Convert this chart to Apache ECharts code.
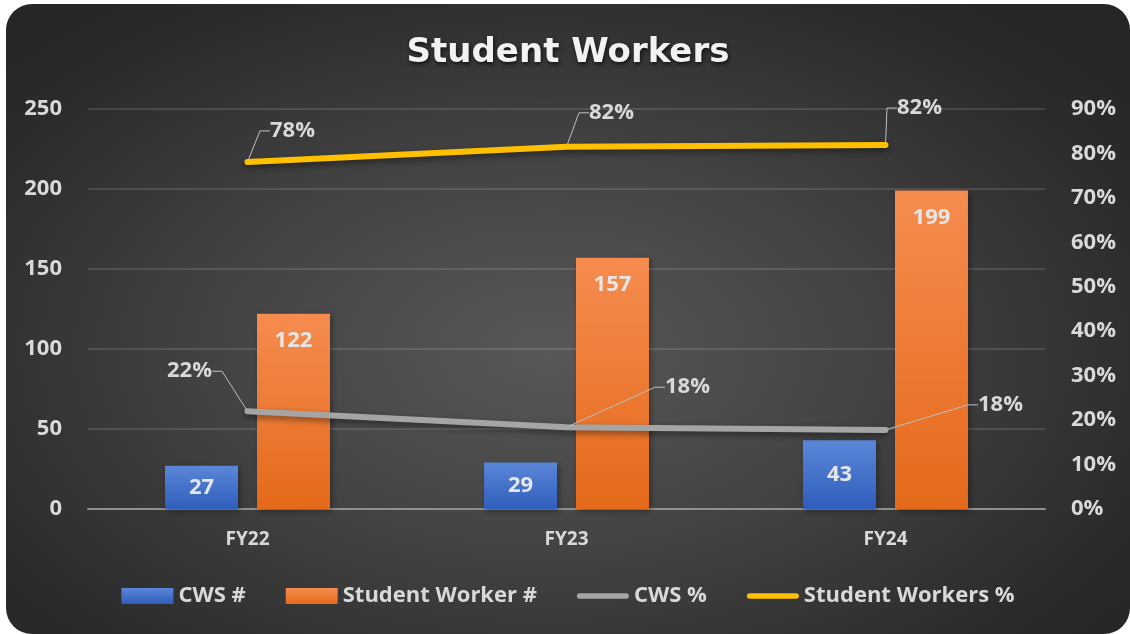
<!DOCTYPE html>
<html>
<head>
<meta charset="utf-8">
<script src="https://cdn.jsdelivr.net/npm/echarts@6/dist/echarts.min.js"></script>
<style>
    html, body { margin: 0; padding: 0; background: #ffffff; }
    #card {
        position: absolute;
        left: 6px;
        top: 4px;
        width: 1124px;
        height: 630px;
        border-radius: 26px;
        overflow: hidden;
        background: radial-gradient(ellipse 65% 70% at 48% 55%, #585858 0%, #434343 45%, #2c2c2c 85%, #262626 100%);
    }
    #chart { width: 1124px; height: 630px; }
</style>
</head>
<body>
<div id="card"><div id="chart"></div></div>
<script>
    var categories = ['FY22', 'FY23', 'FY24'];
    var cwsCount = [27, 29, 43];
    var studentWorkerCount = [122, 157, 199];
    var cwsPct = [22.0, 18.4, 17.8];
    var studentWorkersPct = [78.1, 81.5, 81.9];
    var leftTicks = [0, 250, 50];
    var rightTicks = [0, 90, 10];

    // label offsets (dx, dy) from the point for each line label
    var yellowOffsets = [[45, -31], [45, -34], [34, -37]];
    var grayOffsets = [[-58, -40], [121, -40], [115, -25]];

    var font = '"Open Sans", "DejaVu Sans", sans-serif';
    var textColor = '#d9d9d9';
    // thick rounded line used as legend icon for the line series
    var lineIcon = 'path://M3,0 L54,0 A3,3 0 0 1 54,6 L3,6 A3,3 0 0 1 3,0 Z';

    var chart = echarts.init(document.getElementById('chart'));

    function pctLabel(p) {
        return Math.round(p.value) + '%';
    }

    var option = {
        backgroundColor: 'transparent',
        textStyle: { fontFamily: font },
        title: {
            text: 'Student Workers',
            left: 'center',
            top: 27,
            textStyle: {
                fontFamily: '"DejaVu Sans", sans-serif',
                fontSize: 34,
                fontWeight: 'bold',
                color: '#f2f2f2',
                textShadowColor: 'rgba(0,0,0,0.7)',
                textShadowBlur: 4,
                textShadowOffsetX: 1,
                textShadowOffsetY: 2
            }
        },
        grid: {
            left: 82,
            right: 85,
            top: 105,
            bottom: 125,
            containLabel: false
        },
        legend: {
            bottom: 22,
            left: 'center',
            itemWidth: 52,
            itemHeight: 16,
            itemGap: 40,
            textStyle: {
                color: textColor,
                fontSize: 22,
                fontWeight: 'bold',
                fontFamily: font
            },
            data: [
                { name: 'CWS #', icon: 'rect' },
                { name: 'Student Worker #', icon: 'rect' },
                { name: 'CWS %', icon: lineIcon },
                { name: 'Student Workers %', icon: lineIcon }
            ]
        },
        xAxis: {
            type: 'category',
            data: categories,
            axisTick: { show: false },
            axisLine: { lineStyle: { color: '#8f8f8f', width: 2 } },
            axisLabel: {
                color: textColor,
                fontSize: 19,
                fontWeight: 'bold',
                margin: 21
            }
        },
        yAxis: [{
            type: 'value',
            min: leftTicks[0],
            max: leftTicks[1],
            interval: leftTicks[2],
            axisLine: { show: false },
            axisTick: { show: false },
            axisLabel: {
                color: textColor,
                fontSize: 22,
                fontWeight: 'bold',
                margin: 26
            },
            splitLine: { lineStyle: { color: 'rgba(255,255,255,0.12)', width: 2 } }
        }, {
            type: 'value',
            min: rightTicks[0],
            max: rightTicks[1],
            interval: rightTicks[2],
            axisLine: { show: false },
            axisTick: { show: false },
            splitLine: { show: false },
            axisLabel: {
                color: textColor,
                fontSize: 22,
                fontWeight: 'bold',
                margin: 26,
                formatter: '{value}%'
            }
        }],
        series: [{
            name: 'CWS #',
            type: 'bar',
            data: cwsCount,
            barWidth: 73,
            barGap: '26%',
            itemStyle: {
                color: new echarts.graphic.LinearGradient(0, 0, 0, 1, [
                    { offset: 0, color: '#5b87d8' },
                    { offset: 1, color: '#2f5dbb' }
                ]),
                shadowColor: 'rgba(0,0,0,0.35)',
                shadowBlur: 6,
                shadowOffsetX: 2,
                shadowOffsetY: 2
            },
            label: {
                show: true,
                position: 'inside',
                color: '#e6e6e6',
                fontSize: 22,
                fontWeight: 'bold'
            },
            z: 2
        }, {
            name: 'Student Worker #',
            type: 'bar',
            data: studentWorkerCount,
            barWidth: 73,
            itemStyle: {
                color: new echarts.graphic.LinearGradient(0, 0, 0, 1, [
                    { offset: 0, color: '#f58c4f' },
                    { offset: 1, color: '#e4691a' }
                ]),
                shadowColor: 'rgba(0,0,0,0.35)',
                shadowBlur: 6,
                shadowOffsetX: 2,
                shadowOffsetY: 2
            },
            label: {
                show: true,
                position: 'insideTop',
                distance: 16,
                color: '#e6e6e6',
                fontSize: 22,
                fontWeight: 'bold'
            },
            z: 2
        }, {
            name: 'CWS %',
            type: 'line',
            yAxisIndex: 1,
            data: cwsPct,
            symbol: 'circle',
            symbolSize: 4,
            color: '#a5a5a5',
            lineStyle: {
                width: 6,
                color: '#a5a5a5',
                cap: 'round',
                shadowColor: 'rgba(0,0,0,0.45)',
                shadowBlur: 6,
                shadowOffsetY: 3
            },
            itemStyle: { color: '#a5a5a5' },
            label: {
                show: true,
                position: 'inside',
                formatter: pctLabel,
                color: textColor,
                fontSize: 22,
                fontWeight: 'bold',
                padding: [0, 5]
            },
            labelLine: {
                show: true,
                length2: 10,
                lineStyle: { color: '#bfbfbf', width: 1 }
            },
            labelLayout: function (p) {
                var o = grayOffsets[p.dataIndex];
                return { dx: o[0], dy: o[1] };
            },
            z: 5
        }, {
            name: 'Student Workers %',
            type: 'line',
            yAxisIndex: 1,
            data: studentWorkersPct,
            symbol: 'circle',
            symbolSize: 4,
            color: '#ffc000',
            lineStyle: {
                width: 6,
                color: '#ffc000',
                cap: 'round',
                shadowColor: 'rgba(0,0,0,0.45)',
                shadowBlur: 6,
                shadowOffsetY: 3
            },
            itemStyle: { color: '#ffc000' },
            label: {
                show: true,
                position: 'inside',
                formatter: pctLabel,
                color: textColor,
                fontSize: 22,
                fontWeight: 'bold',
                padding: [0, 5]
            },
            labelLine: {
                show: true,
                length2: 10,
                lineStyle: { color: '#bfbfbf', width: 1 }
            },
            labelLayout: function (p) {
                var o = yellowOffsets[p.dataIndex];
                return { dx: o[0], dy: o[1] };
            },
            z: 5
        }]
    };

    chart.setOption(option);
</script>
</body>
</html>
